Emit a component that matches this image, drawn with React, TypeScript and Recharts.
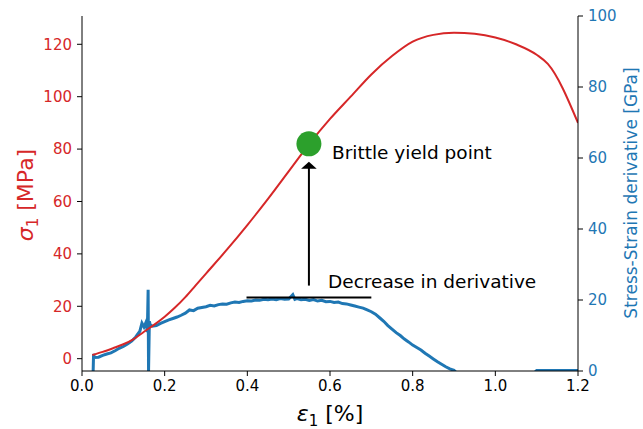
import React from 'react';
import { LineChart, Line, XAxis, YAxis, ReferenceLine, ReferenceDot } from 'recharts';

// stress-strain curve (left axis, MPa)
const stressStrain = [0.025, 0.05, 0.075, 0.1, 0.125, 0.15, 0.175, 0.2, 0.225, 0.25, 0.275, 0.3, 0.35, 0.4, 0.45, 0.5, 0.55, 0.6, 0.65, 0.7, 0.75, 0.8, 0.85, 0.9, 0.95, 1.0, 1.05, 1.1, 1.127, 1.2];
const stressValues = [1.4, 2.6, 4, 5.5, 7.5, 10.3, 13, 16, 19.5, 23.5, 28, 32.5, 41.5, 51, 61, 71.5, 82, 91.5, 100, 108.5, 115.5, 121, 123.6, 124.4, 124, 122.6, 120, 116, 112.5, 90];

// stress-strain derivative (right axis, GPa)
const derivStrain = [
  0.027, 0.028, 0.03, 0.04, 0.05, 0.06, 0.07, 0.08, 0.09, 0.1, 0.11, 0.12, 0.13, 0.14, 0.145, 0.15, 0.155, 0.158, 0.16, 0.161, 0.163, 0.165,
  0.17, 0.18, 0.19, 0.2, 0.21, 0.22, 0.23, 0.24, 0.25, 0.26, 0.27, 0.28, 0.29, 0.3, 0.31, 0.32, 0.33, 0.34, 0.35, 0.36, 0.37, 0.38, 0.39,
  0.4, 0.41, 0.42, 0.43, 0.44, 0.45, 0.46, 0.47, 0.48, 0.49, 0.5, 0.51, 0.515, 0.52, 0.53, 0.54, 0.55, 0.56, 0.57, 0.58, 0.59, 0.6,
  0.61, 0.62, 0.63, 0.64, 0.65, 0.66, 0.67, 0.68, 0.69, 0.7, 0.71, 0.72, 0.73, 0.74, 0.75, 0.76, 0.77, 0.78, 0.79, 0.8, 0.81, 0.82,
  0.83, 0.84, 0.85, 0.86, 0.87, 0.88, 0.89, 0.9, 0.91, 1.09, 1.1, 1.2,
];
const derivValues = [
  0, 4.8, 3.8, 3.9, 4.4, 4.8, 5.1, 5.7, 6.4, 6.9, 7.6, 8.4, 9.6, 11.2, 13.5, 12.4, 13.8, 11, 22.9, 0, 14, 13,
  12.6, 12.8, 13.4, 13.9, 14.4, 14.8, 15.2, 15.7, 16.3, 17.2, 17.0, 17.7, 17.9, 18.1, 18.5, 18.3, 18.7, 18.9, 18.8, 19.2, 19.4, 19.3, 19.6,
  19.8, 19.7, 20.0, 19.9, 20.2, 20.1, 20.3, 20.1, 20.4, 20.2, 20.3, 21.5, 20.2, 20.4, 20.1, 20.2, 19.9, 20.1, 19.7, 19.9, 19.5, 19.6,
  19.3, 19.4, 19.0, 18.9, 18.6, 18.3, 18.0, 17.7, 17.2, 16.7, 16.0, 15.0, 14.0, 12.8, 11.8, 10.8, 10.0, 9.0, 8.2, 7.3, 6.6, 5.9,
  5.0, 4.2, 3.4, 2.6, 1.9, 1.2, 0.6, 0.2, -1, -1, 0.15, 0.15,
];

const xTicks = [0, 0.2, 0.4, 0.6, 0.8, 1.0, 1.2];
const xTickLabels = ['0.0', '0.2', '0.4', '0.6', '0.8', '1.0', '1.2'];
const leftTicks = [0, 20, 40, 60, 80, 100, 120];
const rightTicks = [0, 20, 40, 60, 80, 100];

// annotations
const yieldPoint = { x: 0.549, y: 82 };
const arrowFrom = { x: 0.549, y: 27.9 };
const arrowTo = { x: 0.549, y: 75.2 };
const derivLevel = { x1: 0.398, x2: 0.7, y: 20.7 };

const stressData = stressStrain.map((x, i) => ({ x, y: stressValues[i] }));
const derivData = derivStrain.map((x, i) => ({ x, y: derivValues[i] }));

const RED = '#d62728';
const BLUE = '#1f77b4';
const GREEN = '#2ca02c';
const FONT = '"DejaVu Sans", sans-serif';

const XTick = (props: any) => {
  const { x, y, payload, index } = props;
  let i = xTicks.findIndex((t) => Math.abs(t - Number(payload?.value)) < 1e-6);
  if (i < 0) i = index ?? 0;
  return (
    <text x={x} y={y} dy="0.71em" textAnchor="middle" fontSize={15} fontFamily={FONT} fill="#000">
      {xTickLabels[i]}
    </text>
  );
};

const ArrowShape = (props: any) => {
  const { x1, y1, x2, y2 } = props;
  const top = Math.min(y1, y2);
  const bottom = Math.max(y1, y2);
  return (
    <g>
      <line x1={x1} y1={bottom} x2={x2} y2={top + 6} stroke="#000" strokeWidth={2} />
      <polygon points={`${x2},${top} ${x2 - 7.8},${top + 7} ${x2 + 7.8},${top + 7}`} fill="#000" />
    </g>
  );
};

const App: React.FC = () => {
  return (
    <div style={{ position: 'absolute', left: 0, top: 0, background: '#fff' }}>
      <LineChart width={643} height={429} margin={{ top: 16, right: 0, left: 0, bottom: 0 }}>
        <XAxis
          dataKey="x"
          type="number"
          domain={[0, 1.2]}
          ticks={xTicks}
          interval={0}
          allowDataOverflow
          height={58}
          tickSize={5}
          tickMargin={4}
          stroke="#000"
          tick={<XTick />}
          label={{
            content: () => (
              <text x={330} y={421} textAnchor="middle" fontSize={22} fontFamily={FONT} fill="#000">
                <tspan fontStyle="italic">ε</tspan>
                <tspan fontSize={15} dy={5}>1</tspan>
                <tspan dy={-5}> [%]</tspan>
              </text>
            ),
          }}
        />
        <XAxis xAxisId="top" orientation="top" type="number" domain={[0, 1.2]} height={0} tick={false} tickLine={false} stroke="#000" />
        <YAxis
          yAxisId="left"
          type="number"
          domain={[-4.7, 130.8]}
          ticks={leftTicks}
          interval={0}
          allowDataOverflow
          width={82}
          tickSize={5}
          tickMargin={5}
          stroke="#000"
          tick={{ fill: RED, fontSize: 15, fontFamily: FONT }}
          label={{
            content: () => (
              <text x={33} y={195} transform="rotate(-90 33 195)" textAnchor="middle" fontSize={22} fontFamily={FONT} fill={RED}>
                <tspan fontStyle="italic">σ</tspan>
                <tspan fontSize={15} dy={5}>1</tspan>
                <tspan dy={-5}> [MPa]</tspan>
              </text>
            ),
          }}
        />
        <YAxis
          yAxisId="right"
          orientation="right"
          type="number"
          domain={[0, 100]}
          ticks={rightTicks}
          interval={0}
          allowDataOverflow
          width={65}
          tickSize={5}
          tickMargin={5}
          stroke="#000"
          tick={{ fill: BLUE, fontSize: 15, fontFamily: FONT }}
          label={{
            content: () => (
              <text x={637} y={193} transform="rotate(-90 637 193)" textAnchor="middle" fontSize={17} fontFamily={FONT} fill={BLUE}>
                Stress-Strain derivative [GPa]
              </text>
            ),
          }}
        />
        <Line
          yAxisId="right"
          data={derivData}
          dataKey="y"
          type="linear"
          stroke={BLUE}
          strokeWidth={3}
          dot={false}
          isAnimationActive={false}
        />
        <Line
          yAxisId="left"
          data={stressData}
          dataKey="y"
          type="monotone"
          stroke={RED}
          strokeWidth={2}
          dot={false}
          isAnimationActive={false}
        />
        <ReferenceLine
          yAxisId="right"
          segment={[{ x: derivLevel.x1, y: derivLevel.y }, { x: derivLevel.x2, y: derivLevel.y }]}
          stroke="#000"
          strokeWidth={2}
        />
        <ReferenceLine
          yAxisId="left"
          segment={[arrowFrom, arrowTo]}
          shape={ArrowShape}
          label={{
            content: () => (
              <text x={328} y={281} dominantBaseline="central" fontSize={18.5} fontFamily={FONT} fill="#000">
                Decrease in derivative
              </text>
            ),
          }}
        />
        <ReferenceDot
          yAxisId="left"
          x={yieldPoint.x}
          y={yieldPoint.y}
          r={12.5}
          fill={GREEN}
          stroke="none"
          label={{
            content: () => (
              <text x={332} y={152} dominantBaseline="central" fontSize={18.5} fontFamily={FONT} fill="#000">
                Brittle yield point
              </text>
            ),
          }}
        />
      </LineChart>
    </div>
  );
};

export default App;
